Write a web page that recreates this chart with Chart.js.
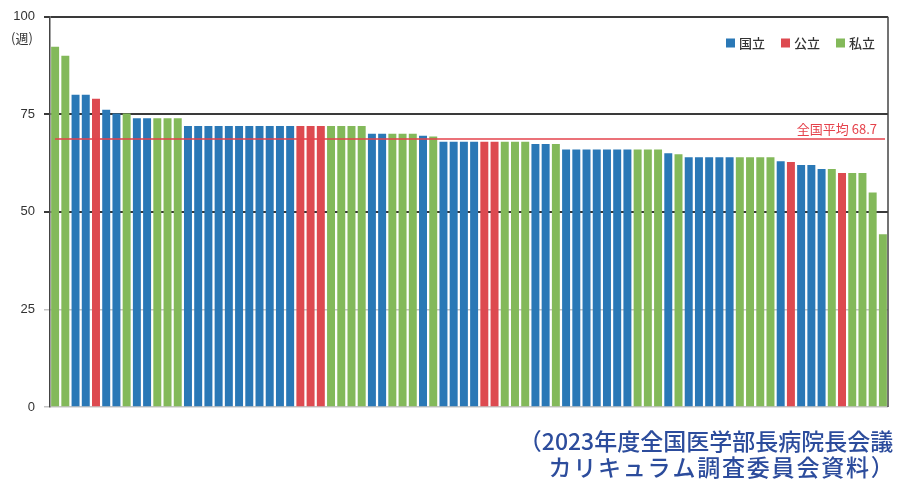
<!DOCTYPE html>
<html lang="ja">
<head>
<meta charset="utf-8">
<script src="https://cdn.jsdelivr.net/npm/chart.js@4/dist/chart.umd.min.js"></script>
<style>
  html, body { margin: 0; padding: 0; background: #ffffff; }
  #wrap { width: 898px; height: 486px; position: relative; }
</style>
</head>
<body>
<div id="wrap"><canvas id="c" width="898" height="486"></canvas></div>
<script>
// ---- Data ----
// Weeks of clinical clerkship per medical school, sorted descending
const weeks = [
  92.3, 90, 80, 80, 79, 76.2, 75.2, 75.2, 74, 74,
  74, 74, 74, 72, 72, 72, 72, 72, 72, 72,
  72, 72, 72, 72, 72, 72, 72, 72, 72, 72,
  72, 70, 70, 70, 70, 70, 69.5, 69.3, 68, 68,
  68, 68, 68, 68, 68, 68, 68, 67.4, 67.4, 67.4,
  66, 66, 66, 66, 66, 66, 66, 66, 66, 66,
  65, 64.8, 64, 64, 64, 64, 64, 64, 64, 64,
  64, 63, 62.8, 62, 62, 61, 61, 60, 60, 60,
  55, 44.3
];
// School type of each bar: 国立 / 公立 / 私立
const types = [
  '私立','私立','国立','国立','公立','国立','国立','私立','国立','国立',
  '私立','私立','私立','国立','国立','国立','国立','国立','国立','国立',
  '国立','国立','国立','国立','公立','公立','公立','私立','私立','私立',
  '私立','国立','国立','私立','私立','私立','国立','私立','国立','国立',
  '国立','国立','公立','公立','私立','私立','私立','国立','国立','私立',
  '国立','国立','国立','国立','国立','国立','国立','私立','私立','私立',
  '国立','私立','国立','国立','国立','国立','国立','私立','私立','私立',
  '私立','国立','公立','国立','国立','国立','私立','公立','私立','私立',
  '私立','私立'
];
const categories = weeks.map((_, i) => String(i + 1)); // school rank (labels not shown)
const typeNames = ['国立', '公立', '私立'];
const yTicks = [0, 25, 50, 75, 100];
const AVERAGE = 68.7;
const averageLabel = '全国平均';
const unitLabel = '(週)';
const sourceLines = ['（2023年度全国医学部長病院長会議', 'カリキュラム調査委員会資料）'];

// ---- Styles ----
const typeColors = { '国立': '#2A78B6', '公立': '#DD4A50', '私立': '#83B95A' };
const jpFont = '"Noto Sans CJK JP", "Noto Sans", sans-serif';
const numFont = '"Liberation Sans Narrow", "Liberation Sans", Arial, sans-serif';

const datasets = typeNames.map(t => ({
  label: t,
  data: weeks.map((v, i) => types[i] === t ? v : null),
  backgroundColor: typeColors[t],
  borderWidth: 0,
  categoryPercentage: 1.0,
  barPercentage: 0.78
}));

const decor = {
  id: 'decor',
  afterDatasetsDraw(chart) {
    const { ctx, chartArea: a, scales: { y } } = chart;
    ctx.save();
    // right frame
    ctx.strokeStyle = '#444';
    ctx.lineWidth = 1.5;
    ctx.beginPath();
    ctx.moveTo(a.right, a.top);
    ctx.lineTo(a.right, a.bottom);
    ctx.stroke();
    // national average line
    const yy = y.getPixelForValue(AVERAGE);
    ctx.strokeStyle = '#E5424B';
    ctx.lineWidth = 1.5;
    ctx.beginPath();
    ctx.moveTo(a.left + 5, yy);
    ctx.lineTo(a.right - 3, yy);
    ctx.stroke();
    ctx.fillStyle = '#E5424B';
    ctx.font = '13px ' + jpFont;
    ctx.textAlign = 'right';
    ctx.textBaseline = 'alphabetic';
    ctx.fillText(averageLabel + ' ' + AVERAGE.toFixed(1), a.right - 11, yy - 5);
    ctx.restore();
  },
  afterDraw(chart) {
    const { ctx, chartArea: a } = chart;
    ctx.save();
    // unit label
    ctx.fillStyle = '#333';
    ctx.font = '13px ' + jpFont;
    ctx.textAlign = 'center';
    ctx.textBaseline = 'middle';
    ctx.fillText(unitLabel, 22, 38);
    // legend (top-right, inside plot)
    ctx.font = '500 13px ' + jpFont;
    const box = 9, gapBox = 4, gapItem = 16;
    const items = chart.data.datasets.map(d => ({ text: d.label, color: d.backgroundColor, w: ctx.measureText(d.label).width }));
    let total = items.reduce((s, it) => s + box + gapBox + it.w, 0) + gapItem * (items.length - 1);
    let x = a.right - 13 - total;
    const ly = 43;
    items.forEach(it => {
      ctx.fillStyle = it.color;
      ctx.fillRect(x, ly - box / 2, box, box);
      x += box + gapBox;
      ctx.fillStyle = '#333';
      ctx.textAlign = 'left';
      ctx.fillText(it.text, x, ly);
      x += it.w + gapItem;
    });
    // source note
    ctx.fillStyle = '#2C4C9C';
    ctx.font = '500 23px ' + jpFont;
    ctx.textAlign = 'center';
    ctx.textBaseline = 'middle';
    ctx.letterSpacing = '0px';
    ctx.fillText(sourceLines[0], 706, 441);
    ctx.letterSpacing = '1.8px';
    ctx.fillText(sourceLines[1], 722, 467);
    ctx.restore();
  }
};

new Chart(document.getElementById('c'), {
  type: 'bar',
  data: { labels: categories, datasets },
  options: {
    responsive: false,
    devicePixelRatio: 1,
    animation: false,
    layout: { padding: { top: 15, right: 10, bottom: 79, left: 0 } },
    plugins: {
      legend: { display: false },
      tooltip: { enabled: false }
    },
    scales: {
      x: {
        stacked: true,
        display: false
      },
      y: {
        stacked: true,
        min: 0,
        max: 100,
        afterBuildTicks: s => { s.ticks = yTicks.map(v => ({ value: v })); },
        afterFit: s => { s.width = 50; },
        ticks: {
          padding: 9,
          color: '#333',
          font: { family: numFont, size: 13 }
        },
        grid: {
          color: c => (c.tick && c.tick.value >= 50) ? '#3a3a3a' : '#c4c4c4',
          lineWidth: c => (c.tick && c.tick.value >= 50) ? 2 : 1.5,
          tickLength: 6,
          drawTicks: true
        },
        border: { color: '#444', width: 1.5 }
      }
    }
  },
  plugins: [decor]
});
</script>
</body>
</html>
